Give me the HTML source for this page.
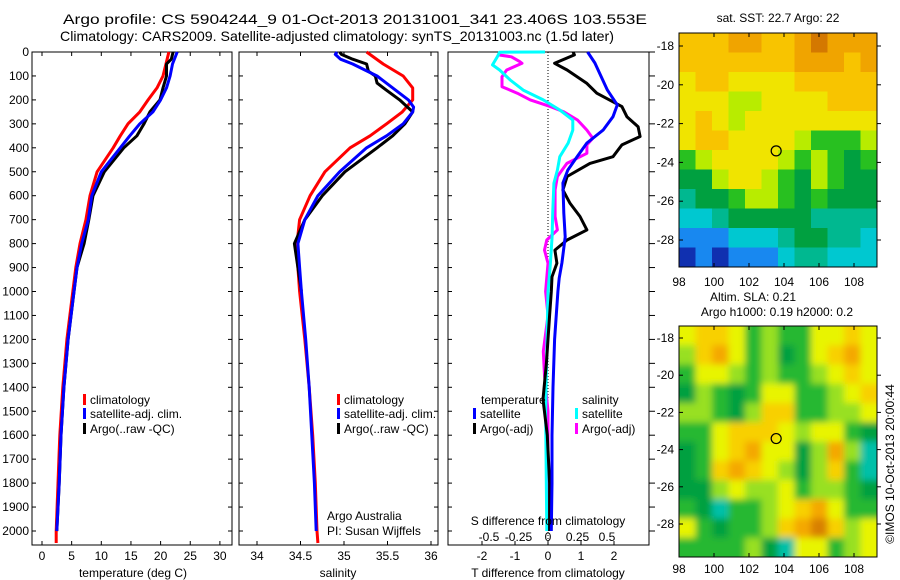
<!DOCTYPE html>
<html><head><meta charset="utf-8">
<style>
body{margin:0;background:#fff;}
svg{display:block;font-family:"Liberation Sans",sans-serif;}
</style></head>
<body>
<svg id="fig" width="900" height="580" viewBox="0 0 900 580">
<text x="63" y="24" font-size="14" textLength="584" lengthAdjust="spacingAndGlyphs">Argo profile: CS 5904244_9 01-Oct-2013 20131001_341 23.406S 103.553E</text>
<text x="60" y="41" font-size="14" textLength="554" lengthAdjust="spacingAndGlyphs">Climatology: CARS2009. Satellite-adjusted climatology: synTS_20131003.nc (1.5d later)</text>
<g id="g"></g>
</svg>
<script>
// ---- data ----
const depthTicks=[0,100,200,300,400,500,600,700,800,900,1000,1100,1200,1300,1400,1500,1600,1700,1800,1900,2000];
const tempTicks=[0,5,10,15,20,25,30];
const salTicks=[34,34.5,35,35.5,36];
const salTickLabels=["34","34.5","35","35.5","36"];
const dTTicks=[-2,-1,0,1,2];
const dSTicks=[-0.5,-0.25,0,0.25,0.5];
const dSTickLabels=["-0.5","-0.25","0","0.25","0.5"];
const tClimDepth=[0,100,150,200,250,300,350,400,500,600,700,800,900,1000,1200,1400,1600,1800,2000,2050];
const tClim=[21.4,20.4,19.4,17.9,16.5,14.5,13.2,12.0,9.3,8.1,7.4,6.4,5.7,5.2,4.2,3.5,3.0,2.7,2.4,2.4];
const tSatDepth=[0,50,100,150,200,250,300,350,400,500,600,700,800,900,1000,1200,1400,1600,1800,2000];
const tSat=[22.8,22.0,21.6,21.0,20.0,18.7,16.5,14.8,13.2,10.0,8.4,7.8,6.7,5.9,5.4,4.4,3.7,3.2,2.9,2.5];
const tArgoDepth=[0,30,50,100,150,200,250,300,350,400,500,600,700,800,850,900,1000,1200,1400,1600,1800,2000];
const tArgo=[22.1,21.8,21.0,21.0,20.4,19.9,18.2,17.2,16.0,13.8,10.5,8.6,7.9,7.1,6.5,5.9,5.4,4.4,3.7,3.2,2.9,2.5];
const sClimDepth=[0,50,100,150,200,250,300,350,400,500,600,700,800,900,1000,1200,1400,1600,1800,2000,2050];
const sClim=[35.26,35.45,35.68,35.79,35.79,35.67,35.49,35.30,35.07,34.78,34.61,34.49,34.46,34.47,34.49,34.55,34.60,34.64,34.67,34.69,34.70];
const sSatDepth=[0,10,30,50,100,150,200,230,250,300,350,400,500,600,700,800,900,1000,1200,1400,1600,1800,2000];
const sSat=[34.92,34.90,34.96,35.10,35.38,35.56,35.74,35.80,35.79,35.68,35.49,35.26,34.95,34.70,34.55,34.47,34.49,34.51,34.56,34.60,34.63,34.66,34.68];
const sArgoDepth=[0,10,30,50,80,100,130,160,200,230,250,300,350,400,500,600,700,800,900,1000];
const sArgo=[34.95,34.97,35.10,35.26,35.28,35.36,35.38,35.49,35.64,35.73,35.79,35.70,35.56,35.38,35.01,34.75,34.55,34.43,34.47,34.51];
const dTSatDepth=[0,46,159,221,270,326,380,438,493,547,672,772,881,944,1000,1200,1400,1600,1800,2000];
const dTSat=[1.2,1.42,1.8,2.1,1.97,1.67,1.18,0.88,0.6,0.45,0.48,0.52,0.42,0.34,0.3,0.2,0.15,0.12,0.12,0.1];
const dTArgoDepth=[0,12,47,75,131,172,228,270,312,353,388,437,465,520,576,632,687,743,785,827,882,938,1000,1100,1300,1450,1600,1800,2000];
const dTArgo=[0.76,0.8,0.2,0.58,1.18,1.48,2.24,2.39,2.73,2.79,2.24,1.97,1.27,0.58,0.45,0.67,0.97,1.18,0.58,0.21,0.27,0.12,0.1,0.05,-0.05,-0.15,-0.02,0.05,0.05];
const dSSatDepth=[0,1,20,54,75,117,159,200,242,284,326,381,437,493,548,673,771,882,945,1000,1500,2000];
const dSSat=[-0.025,-0.41,-0.43,-0.47,-0.41,-0.32,-0.21,-0.04,0.10,0.21,0.21,0.17,0.10,0.08,0.05,0.04,0.035,0.02,0.01,0.0,-0.02,-0.01];
const dSArgoDepth=[12,20,40,47,75,103,145,172,200,228,249,284,326,360,388,423,465,520,576,687,743,785,827,882,1000,1100,1250,1350,1500,2000];
const dSArgo=[-0.42,-0.31,-0.24,-0.22,-0.35,-0.39,-0.39,-0.26,-0.15,0.02,0.13,0.25,0.33,0.38,0.33,0.33,0.16,0.08,0.06,0.06,0.08,-0.01,-0.03,0.0,-0.02,0.0,-0.04,-0.03,0.0,0.0];
const lonTicks=[98,100,102,104,106,108];
const latTicks=[-18,-20,-22,-24,-26,-28];
const sstGrid=[
[8,8,8,9,9,8,8,9,10,9,9,9],[8,8,8,8,8,8,8,9,9,9,8,9],[7,8,8,7,7,7,7,8,8,8,8,8],[7,7,7,6,6,7,7,7,7,8,8,8],
[7,8,7,6,7,7,7,7,7,7,7,7],[7,8,8,7,7,7,7,6,5,5,5,6],[5,6,7,7,7,7,6,5,6,5,4,5],[4,4,6,7,7,6,5,4,6,5,4,4],
[3,4,4,5,6,6,5,4,5,4,4,4],[2,2,3,4,4,4,4,4,3,3,3,3],[1,1,1,2,2,2,3,4,4,3,3,2],[0,1,0,1,1,1,2,3,3,2,2,2]];
const slaGrid=[
[6,7,7,6,4,5,4,4,6,6,7,6],[5,7,8,6,4,5,3,4,6,7,8,6],[4,6,6,5,4,5,4,4,5,6,7,6],[3,5,4,3,4,6,6,4,4,5,6,7],
[5,5,4,3,5,7,7,4,4,5,5,6],[4,4,6,7,7,7,6,5,6,6,4,3],[3,4,6,7,8,6,6,3,5,8,5,2],[3,4,7,8,7,6,5,3,5,7,4,2],
[3,3,5,6,5,5,6,4,5,5,4,3],[4,3,2,4,4,5,6,7,8,6,4,4],[6,4,3,4,4,5,7,8,9,7,5,6],[4,4,4,4,5,3,2,6,6,4,5,6]];
const argoLon=103.553, argoLat=-23.406;
const sstColors=["#1030b0","#1888f0","#00c8d0","#00b890","#00a040","#28c020","#b8ec00","#f0e400","#f8c400","#f0a400","#d47800"];
const slaColors=["#00a040","#00a040","#00c0a8","#00a040","#28b830","#98e020","#e8f400","#f8d000","#f4a800","#d88000"];

// ---- helpers ----
const NS="http://www.w3.org/2000/svg";
const G=document.getElementById('g');
function mk(tag,attrs,parent){const e=document.createElementNS(NS,tag);for(const k in attrs)e.setAttribute(k,attrs[k]);(parent||G).appendChild(e);return e;}
const yTop=52,yBot=545;
function yD(d){return 52+d*0.2395;}
function xT(v){return 42+v*5.93;}
function xS(v){return 257+(v-34)*87;}
function xdT(v){return 548+v*33;}
function xdS(v){return 548+v*118;}
function line(xs,ys,xf,color,name){
  const pts=xs.map((v,i)=>xf(v).toFixed(1)+","+yD(ys[i]).toFixed(1)).join(" ");
  const p=mk('polyline',{points:pts,fill:'none',stroke:color,'stroke-width':3,'stroke-linejoin':'round'});
  
  
}
function txt(x,y,s,opts,name){const t=mk('text',Object.assign({x:x,y:y,'font-size':12},opts||{}));t.textContent=s;
  
  return t;}
function frame(x0,x1,name){const r=mk('rect',{x:x0,y:yTop,width:x1-x0,height:yBot-yTop,fill:'none',stroke:'#000','stroke-width':1});
  
  }
function yticks(x0,x1,labels){depthTicks.forEach(d=>{const y=yD(d);
  mk('line',{x1:x0,y1:y,x2:x0+4,y2:y,stroke:'#000'});mk('line',{x1:x1,y1:y,x2:x1-4,y2:y,stroke:'#000'});
  if(labels)txt(29,y+4,String(d),{'text-anchor':'end'},'y-tick-label');});}
function xticks(vals,labels,xf,y,name){vals.forEach((v,i)=>{const x=xf(v);
  mk('line',{x1:x,y1:yBot,x2:x,y2:yBot-4,stroke:'#000'});mk('line',{x1:x,y1:yTop,x2:x,y2:yTop+4,stroke:'#000'});
  txt(x,y,labels[i],{'text-anchor':'middle'},name);});}
function legend(x,y,color,label,name){
  const r=mk('rect',{x:x,y:y-10,width:3,height:11,fill:color});
  
  
  txt(x+7,y,label,{},name);}

// ---- panel 1: temperature ----
frame(32,232,'temperature-panel');
yticks(32,232,true);
xticks(tempTicks,tempTicks.map(String),xT,560,'temperature-x-tick');
txt(133,577,'temperature (deg C)',{'text-anchor':'middle'},'temperature-x-axis-title');
line(tClim,tClimDepth,xT,'#ff0000','temperature-climatology-line');
line(tArgo,tArgoDepth,xT,'#000000','temperature-argo-line');
line(tSat,tSatDepth,xT,'#0000ff','temperature-satellite-line');
legend(83,404,'#ff0000','climatology','legend-climatology');
legend(83,418,'#0000ff','satellite-adj. clim.','legend-satellite');
legend(83,433,'#000000','Argo(..raw -QC)','legend-argo');

// ---- panel 2: salinity ----
frame(239,438,'salinity-panel');
yticks(239,438,false);
xticks(salTicks,salTickLabels,xS,560,'salinity-x-tick');
txt(338,577,'salinity',{'text-anchor':'middle'},'salinity-x-axis-title');
line(sClim,sClimDepth,xS,'#ff0000','salinity-climatology-line');
line(sArgo,sArgoDepth,xS,'#000000','salinity-argo-line');
line(sSat,sSatDepth,xS,'#0000ff','salinity-satellite-line');
legend(337,404,'#ff0000','climatology','legend-sal-climatology');
legend(337,418,'#0000ff','satellite-adj. clim.','legend-sal-satellite');
legend(337,433,'#000000','Argo(..raw -QC)','legend-sal-argo');
txt(327,520,'Argo Australia',{},'credit-argo-australia');
txt(327,535,'PI: Susan Wijffels',{},'credit-pi');

// ---- panel 3: differences ----
frame(448,649,'difference-panel');
depthTicks.forEach(d=>{const y=yD(d);mk('line',{x1:448,y1:y,x2:452,y2:y,stroke:'#000'});mk('line',{x1:649,y1:y,x2:655,y2:y,stroke:'#000'});});
dTTicks.forEach(v=>{const x=xdT(v);mk('line',{x1:x,y1:yBot,x2:x,y2:yBot-4,stroke:'#000'});txt(x,560,String(v),{'text-anchor':'middle'},'t-diff-x-tick');});
mk('line',{x1:548,y1:yTop,x2:548,y2:yBot,stroke:'#000','stroke-dasharray':'1,2'});
txt(548,577,'T difference from climatology',{'text-anchor':'middle'},'t-diff-axis-title');
line(dSArgo,dSArgoDepth,xdS,'#ff00ff','s-diff-argo-line');
line(dSSat,dSSatDepth,xdS,'#00ffff','s-diff-satellite-line');
line(dTArgo,dTArgoDepth,xdT,'#000000','t-diff-argo-line');
line(dTSat,dTSatDepth,xdT,'#0000ff','t-diff-satellite-line');
txt(548,525,'S difference from climatology',{'text-anchor':'middle'},'s-diff-axis-title');
dSTicks.forEach((v,i)=>txt(xdS(v),541,dSTickLabels[i],{'text-anchor':'middle'},'s-diff-tick'));
txt(481,404,'temperature',{},'legend-temperature-header');
legend(473,418,'#0000ff','satellite','legend-t-satellite');
legend(473,433,'#000000','Argo(-adj)','legend-t-argo');
txt(582,404,'salinity',{},'legend-salinity-header');
legend(575,418,'#00ffff','satellite','legend-s-satellite');
legend(575,433,'#ff00ff','Argo(-adj)','legend-s-argo');

// ---- maps ----
function map(top,bot,grid,colors,lat18,lat28,blur,name,lonLabelY){
  const L=679,R=877,lon98=679,lon108=854;
  const xL=v=>lon98+(v-98)*(lon108-lon98)/10;
  const yL=v=>lat18+(v+18)*(lat28-lat18)/-10;
  const lonMin=98+(L-lon98)/((lon108-lon98)/10), lonMax=98+(R-lon98)/((lon108-lon98)/10);
  const latMax=-18-(top-lat18)/((lat28-lat18)/10), latMin=-18-(bot-lat18)/((lat28-lat18)/10);
  const cid='clip-'+name;
  const defs=mk('defs',{});const cp=mk('clipPath',{id:cid},defs);mk('rect',{x:L,y:top,width:R-L,height:bot-top},cp);
  if(blur){const f=mk('filter',{id:'blur-'+name,x:'-10%',y:'-10%',width:'120%',height:'120%'},defs);mk('feGaussianBlur',{stdDeviation:3.5},f);}
  const outer=mk('g',{'clip-path':'url(#'+cid+')'});
  const gr=mk('g',blur?{filter:'url(#blur-'+name+')'}:{},outer);
  
  
  const nr=grid.length,nc=grid[0].length;
  const dLon=(lonMax-lonMin)/nc,dLat=(latMax-latMin)/nr;
  grid.forEach((row,i)=>row.forEach((v,j)=>{
    const x0=xL(lonMin+j*dLon),x1=xL(lonMin+(j+1)*dLon),y0=yL(latMax-i*dLat),y1=yL(latMax-(i+1)*dLat);
    const pad=blur?12:0;
    const c=mk('rect',{x:x0-(j==0?pad:0),y:y0-(i==0?pad:0),width:x1-x0+0.6+(j==0||j==nc-1?pad:0),height:y1-y0+0.6+(i==0||i==nr-1?pad:0),fill:colors[v]},gr);
    
    
  }));
  const fr=mk('rect',{x:L,y:top,width:R-L,height:bot-top,fill:'none',stroke:'#000'});
  
  
  latTicks.forEach(v=>{const y=yL(v);mk('line',{x1:L,y1:y,x2:L+4,y2:y,stroke:'#000'});mk('line',{x1:R,y1:y,x2:R+4,y2:y,stroke:'#000'});
    txt(674,y+4,String(v),{'text-anchor':'end'},name+'-lat-label');});
  lonTicks.forEach(v=>{const x=xL(v);mk('line',{x1:x,y1:bot,x2:x,y2:bot-4,stroke:'#000'});mk('line',{x1:x,y1:top,x2:x,y2:top+4,stroke:'#000'});
    txt(x,lonLabelY,String(v),{'text-anchor':'middle'},name+'-lon-label');});
  const c=mk('circle',{cx:xL(argoLon),cy:yL(argoLat),r:5,fill:'none',stroke:'#000','stroke-width':1.2});
  
  
}
map(33,267,sstGrid,sstColors,46,240,false,'sst-map',286);
map(326,557,slaGrid,slaColors,338,524,true,'sla-map',573);
txt(778,22,'sat. SST: 22.7 Argo: 22',{'text-anchor':'middle'},'sst-map-title');
txt(753,301,'Altim. SLA: 0.21',{'text-anchor':'middle'},'sla-map-title');
txt(777,316,'Argo h1000: 0.19 h2000: 0.2',{'text-anchor':'middle'},'sla-map-subtitle');
txt(0,0,'\u00A9IMOS 10-Oct-2013 20:00:44',{'text-anchor':'middle',transform:'translate(894,464) rotate(-90)'},'imos-timestamp');
</script>
</body></html>
